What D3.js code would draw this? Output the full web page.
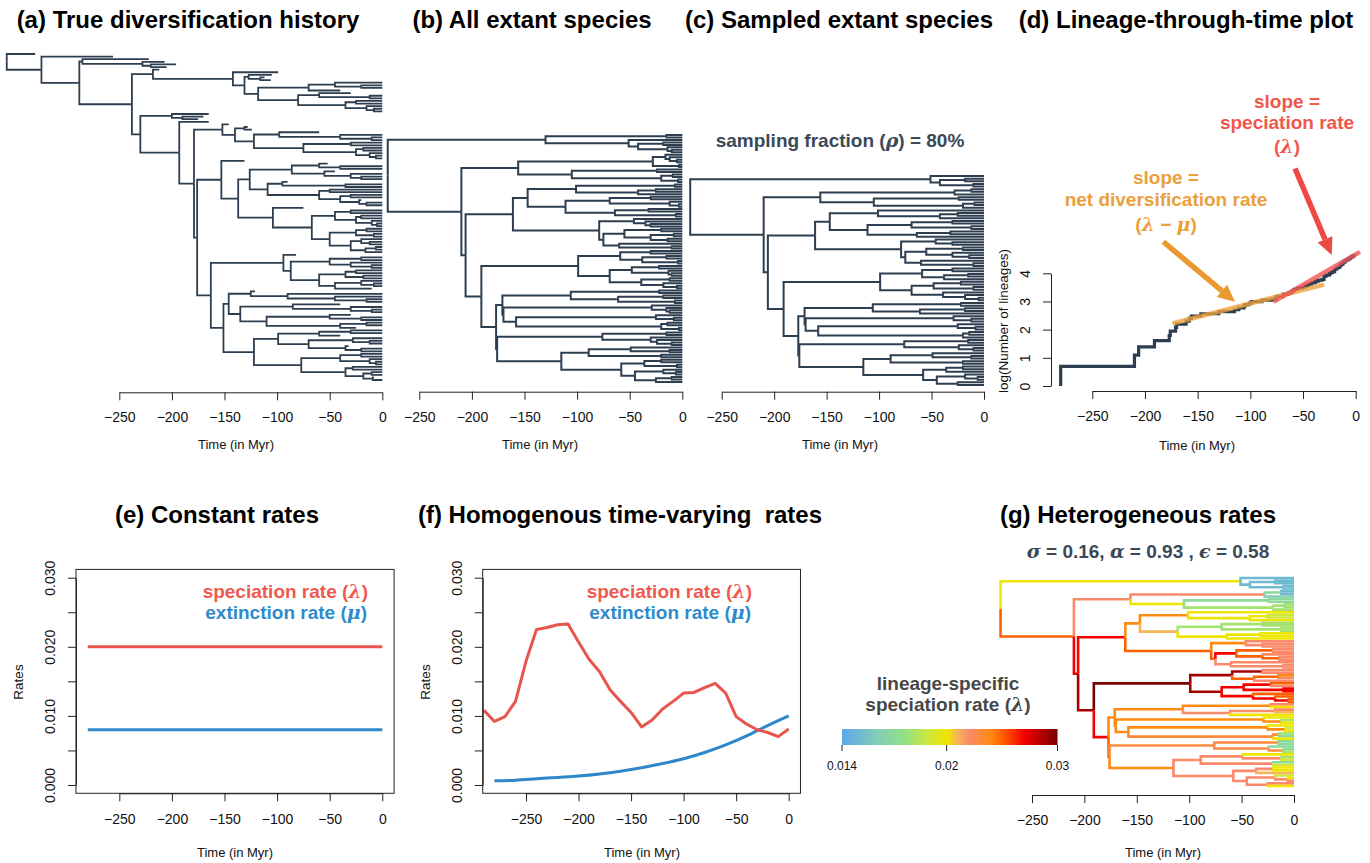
<!DOCTYPE html>
<html>
<head>
<meta charset="utf-8">
<style>
  body { margin: 0; background: #fff; }
  svg { display: block; font-family: "Liberation Sans", Arial, sans-serif; }
</style>
</head>
<body>
<svg width="1370" height="863"></svg>
<script src="https://cdn.jsdelivr.net/npm/d3@7"></script>
<script>
// ---------- data ----------
// trees are written as nested (child,child)age strings, ages in Myr before present
// tips: "" extant, "u" extant but not sampled, "x123" extinct 123 Myr ago
// ":25" after a node = lineage speciation rate (x 1/1000) on the branch leading to it

// (a) true history, with extinct lineages
const histTop = "(x99,((x105,(x112,x106)116)127,(((,(,)20)45,x40)70,((x30,(,)12)60,((,)25,(,(,)8)15)35)80)118)131)142";
const histC1 = "((x128,x124)131,((x60,(,(,)10)40)98,((,)30,((,)18,(,(,)6)12)25)75)122)140";
const histN129 = "(((x52,(,)40)60,(x45,(,(,)20)30)55)86,((x90,(,)35)95,((,)50,((,)30,(x20,(,)15)22)40)60)109)126";
const histC82 = "(((,)30,((,)20,(,(,)5)10)25)45,(((,)15,(,)8)25,((,(,)12)20,((,)6,)16)30)50)67";
const histN94 = "(x82,(((,)20,(,(,)10)30)50,(((,)25,(,)18)35,((,(,)8)20,x10)45)60)87)94";
const histN146 = "((x121,(,(,(,)15)45)90)125,((x40,(,(,)10)30)85,((x30,(,)20)50,((,)15,x25)40)110)135)146";
const histN122 = "((((,)30,x40)60,((,(,)12)28,(x32,(,)20)35)70)99,(((,)20,(,(,)6)12)40,((,)28,((,)10,(x8,)9)18)35)77)122";

// (b) all extant species (with rates used for (g))
const cladeTop = "((u,u)15,(:15,((,)18,(u,(,)10)14)42:15)51:20)130:20";
const cladeT1 = "(((u,(:15,(u,:15)5)12:17)16,(u,:16)3)28,((:17,:17)24:17,((,)9,(u,)4)20:18)105:20)156:22";
const clade101 = "((u,:20)7,((:19,:19)25,:20)42:20)101:24";
const clade111 = "(((,)30,(,(,u)3)12)69:18,((,)32,(u,)6)64:20)111:21";
const clade46 = "(:22,(u,(,)30)35:22)46:24";
const clade75 = "(((:22,:22)20:25,((:22,u)8,(:22,:22)14)30:25)55:27,(:22,(:22,:22)10)60:22)75:25";
const clade59 = "((:22,:22)30,((:24,:22)15,(u,:22)4)38:25)59:29";
const clade69 = "(((:25,:22)22,(u,(,)10)13)48:27,((:25,u)12,(:25,(:25,:25)5)18)39:27)69:29";
const clade106 = "((:22,:20)22,((:22,:21)18,(u,:20)7)61:22)106:24";
const clade170 = "((:20,(u,(:18,:20)12)15)29:24,((:20,(:19,:20)8)25:24,((:18,:17)14,(u,:20)3)20:23)158:24)170:24";
const clade76 = "((:17,:17)15,(u,(:17,(:17,:18)10)24)30)76:23";
const clade115 = "(((:20,(:18,:19)12)49:22,(:17,:19)20)89:22,(((:20,:20)20,(u,:21)5)36:22,((:19,(:20,:22)6)18,((:22,u)10,:20)25)45:22)58:22)115:24";

// (e) constant rates
const timeConst = [-280, 0];
const specConst = [0.02, 0.02];
const extConst = [0.008, 0.008];

// (f) time-varying rates
const timeVar = [-290, -280, -270, -260, -250, -240, -230, -220, -210, -200, -190, -180, -170, -160, -150,
  -140, -130, -120, -110, -100, -90, -80, -70, -60, -50, -40, -30, -20, -10, 0];
const specVar = [0.0108, 0.0092, 0.0099, 0.0121, 0.0179, 0.0225, 0.0228, 0.0232, 0.0233, 0.0207, 0.0182, 0.0164,
  0.0138, 0.0121, 0.0105, 0.0084, 0.0094, 0.0110, 0.0121, 0.0133, 0.0134, 0.0141, 0.0147, 0.0133, 0.0099,
  0.0088, 0.0080, 0.0076, 0.0070, 0.0081];
const timeExt = [-280, -260, -240, -220, -200, -180, -160, -140, -120, -100, -80, -60, -40, -20, 0];
const extVar = [0.0006, 0.0007, 0.0009, 0.0011, 0.0013, 0.0016, 0.0020, 0.0025, 0.0031, 0.0038, 0.0047,
  0.0058, 0.0071, 0.0086, 0.0100];

// (d) slope guides and arrows, in (time, log N)
const netDivLine = [[-174, 2.22], [-30, 3.6]];
const specSlopeLine = [[-78, 2.99], [4, 4.76]];
const netDivArrow = [[-182.6, 5.12], [-114.6, 2.99]];
const specArrow = [[-57.6, 7.72], [-22.8, 4.65]];

// (g) colour key
const rateStops = [0.014, 0.016, 0.0175, 0.019, 0.02, 0.021, 0.022, 0.024, 0.025, 0.027, 0.03];
const rateColors = ["#5aa7ea", "#84cdb8", "#8fe08a", "#cfe63a", "#efe600", "#f7b45a", "#fb8a6a",
  "#ff8a10", "#ff6000", "#f40000", "#7a0000"];
const keyTicks = [0.014, 0.02, 0.03];
const timeTicks = [-250, -200, -150, -100, -50, 0];
const rateTicks = [0, 0.005, 0.01, 0.015, 0.02, 0.025, 0.03];

// ---------- helpers ----------
const svg = d3.select("svg");
svg.append("rect").attr("width", 1370).attr("height", 863).attr("fill", "#fff");

const TREE = "#2c3e50", RED = "#e8554d", BLUE = "#2e87c8";
const fmtT = d => d < 0 ? "\u2212" + (-d) : String(d);

function parseTree(s) {
  let i = 0;
  function node() {
    const n = { children: [] };
    if (s[i] === "(") {
      i++;
      n.children.push(node());
      while (s[i] === ",") { i++; n.children.push(node()); }
      i++;
    }
    const m = /^([ux]?)(\d*)(?::(\d+))?/.exec(s.slice(i));
    i += m[0].length;
    n.flag = m[1];
    n.age = m[2] ? +m[2] : 0;
    n.rate = m[3] ? +m[3] / 1000 : null;
    return n;
  }
  return node();
}

function inheritRates(n, r) {
  if (n.rate == null) n.rate = r;
  n.children.forEach(c => inheritRates(c, n.rate));
}

function prune(n) {
  if (!n.children.length) return n.flag === "u" ? null : { ...n };
  const kids = n.children.map(prune).filter(Boolean);
  if (!kids.length) return null;
  if (kids.length === 1) return kids[0];
  return { ...n, children: kids };
}

function drawTree(tree, xs, yRange, width, colorOf) {
  const h = d3.hierarchy(tree, d => d.children.length ? d.children : null);
  const leaves = h.leaves();
  const ys = d3.scaleLinear().domain([0, leaves.length - 1]).range(yRange);
  leaves.forEach((l, i) => l.py = ys(i));
  h.eachAfter(n => {
    if (n.children) n.py = (n.children[0].py + n.children[n.children.length - 1].py) / 2;
  });
  h.each(n => n.px = xs(-n.data.age));
  svg.append("g").selectAll("path").data(h.links()).join("path")
    .attr("d", l => `M${l.source.px},${l.source.py}V${l.target.py}H${l.target.px}`)
    .attr("fill", "none")
    .attr("stroke", l => colorOf ? colorOf(l.target.data.rate) : TREE)
    .attr("stroke-width", width);
}

function xAxis(scale, y, pad) {
  const g = svg.append("g").attr("transform", `translate(0,${y})`)
    .call(d3.axisBottom(scale).tickValues(timeTicks).tickSize(8).tickSizeOuter(0)
      .tickPadding(pad).tickFormat(fmtT));
  g.attr("font-size", null).attr("font-family", null);
  g.selectAll("text").style("font-size", "14px").attr("fill", "#111");
  g.selectAll("path,line").attr("stroke", "#222");
}

function yAxis(scale, x, ticks, fmt) {
  const g = svg.append("g").attr("transform", `translate(${x},0)`)
    .call(d3.axisLeft(scale).tickValues(ticks).tickSize(8).tickSizeOuter(0).tickFormat(fmt));
  g.attr("font-size", null).attr("font-family", null);
  g.selectAll("text").attr("transform", "rotate(-90)").attr("x", 0).attr("y", -21).attr("dy", 0)
    .attr("text-anchor", "middle").style("font-size", "14px").attr("fill", "#111");
  g.selectAll("path,line").attr("stroke", "#222");
}

function label(txt, x, y, opts = {}) {
  const t = svg.append("text").attr("x", x).attr("y", y)
    .attr("text-anchor", opts.anchor || "middle")
    .attr("font-size", opts.size || 13)
    .attr("font-weight", opts.bold ? "bold" : "normal")
    .attr("fill", opts.fill || "#111");
  if (opts.rotate) t.attr("transform", `rotate(-90,${x},${y})`);
  t.html(txt);
  return t;
}
const it = s => `<tspan font-style="italic" font-family="DejaVu Serif">${s}</tspan>`;

// ---------- trees ----------
const treeA = parseTree("(x330,(x256,((x222,(x207,(x196,x205)220)228)285,((x212," + histTop +
  ")218,((x165,(x170,x175)190)200,(x165,((x146," + histC1 + ")152,((x131,(" + histN129 + ",(x75," +
  histC82 + ")104)137)153,(" + histN94 + ",(" + histN146 + "," + histN122 + ")151)163)176)179)193)230)238)288)324)357");

const treeB = parseTree("(" + cladeTop + ",(" + cladeT1 + ",(((" + clade101 + "," + clade111 + ")147:24,(" +
  clade46 + "," + clade75 + ")79:25)161:27,((" + clade59 + "," + clade69 + ")99:30,((" + clade106 + "," +
  clade170 + ")171:24,(" + clade76 + "," + clade115 + ")176:25)177:27)191:29)206:27)210:25)280");
inheritRates(treeB, null);
const treeC = prune(treeB);

const xA = d3.scaleLinear().domain([-250, 0]).range([119.3, 382.3]);
const xB = d3.scaleLinear().domain([-250, 0]).range([419.3, 682.3]);
const xC = d3.scaleLinear().domain([-250, 0]).range([721.7, 984]);
const xG = d3.scaleLinear().domain([-250, 0]).range([1032, 1294]);

drawTree(treeA, xA, [54, 380], 1.8);
drawTree(treeB, xB, [135, 382], 2);
drawTree(treeC, xC, [176, 385], 2);

const rateColor = d3.scaleLinear().domain(rateStops).range(rateColors).clamp(true);
drawTree(treeC, xG, [578, 786], 2.6, rateColor);

xAxis(xA, 392.3, 12);
xAxis(xB, 391.7, 12);
xAxis(xC, 391.7, 12);
xAxis(xG, 795, 12);

// ---------- (d) LTT ----------
const xD = d3.scaleLinear().domain([-250, 0]).range([1092.3, 1355.7]);
const yD = d3.scaleLinear().domain([0, 4]).range([386, 273.3]);
const nodeAges = d3.hierarchy(treeB, d => d.children.length ? d.children : null)
  .descendants().filter(d => d.children).map(d => d.data.age).sort(d3.descending);
const ltt = [[-nodeAges[0], 1]];
nodeAges.forEach((a, i) => ltt.push([-a, i + 2]));
ltt.push([0, nodeAges.length + 1]);

const lineD = d3.line().x(d => xD(d[0])).y(d => yD(d[1]));
svg.append("path").datum(ltt.map(d => [d[0], Math.log(d[1])]))
  .attr("d", lineD.curve(d3.curveStepAfter)).attr("fill", "none")
  .attr("stroke", TREE).attr("stroke-width", 3.2);
lineD.curve(d3.curveLinear);
svg.append("path").datum(netDivLine).attr("d", lineD).attr("stroke", "#eea13c")
  .attr("stroke-opacity", 0.8).attr("stroke-width", 4.5).attr("fill", "none");
svg.append("path").datum(specSlopeLine).attr("d", lineD).attr("stroke", "#f05555")
  .attr("stroke-opacity", 0.8).attr("stroke-width", 4.5).attr("fill", "none");

function arrow(pts, col) {
  const [x0, y0] = [xD(pts[0][0]), yD(pts[0][1])];
  const [x1, y1] = [xD(pts[1][0]), yD(pts[1][1])];
  const a = Math.atan2(y1 - y0, x1 - x0), L = 17, w = 8;
  const bx = x1 - L * Math.cos(a), by = y1 - L * Math.sin(a);
  svg.append("line").attr("x1", x0).attr("y1", y0).attr("x2", bx).attr("y2", by)
    .attr("stroke", col).attr("stroke-width", 5.5);
  svg.append("path").attr("fill", col).attr("d",
    `M${x1},${y1}L${bx + w * Math.sin(a)},${by - w * Math.cos(a)}L${bx - w * Math.sin(a)},${by + w * Math.cos(a)}Z`);
}
arrow(netDivArrow, "#e89a30");
arrow(specArrow, "#ee4a44");

xAxis(xD, 391, 12);
yAxis(yD, 1051, [0, 1, 2, 3, 4], d => d);

label("slope =", 1287, 108, { bold: true, size: 19, fill: "#f0564c" });
label("speciation rate", 1287, 129, { bold: true, size: 19, fill: "#f0564c" });
label("(" + it("λ") + ")", 1287, 153, { bold: true, size: 19, fill: "#f0564c" });
label("slope =", 1166, 184, { bold: true, size: 19, fill: "#eba03c" });
label("net diversification rate", 1166, 206, { bold: true, size: 19, fill: "#eba03c" });
label("(" + it("λ") + " \u2212 " + it("μ") + ")", 1166, 231, { bold: true, size: 19, fill: "#eba03c" });
label("log(Number of lineages)", 1008, 321, { size: 13.5, rotate: true });

// ---------- (e) and (f) ----------
const yR = d3.scaleLinear().domain([0, 0.03]).range([785, 577.7]);
const rateFmt = d => (Math.round(d * 1000) % 10 === 0) ? d.toFixed(3) : "";

function ratePanel(xs, times, spec, extTimes, ext, id, legendRight) {
  const x0 = xs(-291.2), x1 = xs(11.2), y0 = yR(0.0312), y1 = yR(-0.0012);
  svg.append("clipPath").attr("id", id).append("rect")
    .attr("x", x0).attr("y", y0).attr("width", x1 - x0).attr("height", y1 - y0);
  const line = d3.line().x(d => xs(d[0])).y(d => yR(d[1])).curve(d3.curveMonotoneX);
  svg.append("path").datum(d3.zip(extTimes, ext)).attr("d", line).attr("clip-path", `url(#${id})`)
    .attr("fill", "none").attr("stroke", BLUE).attr("stroke-width", 3);
  svg.append("path").datum(d3.zip(times, spec)).attr("d", line.curve(d3.curveLinear))
    .attr("clip-path", `url(#${id})`)
    .attr("fill", "none").attr("stroke", RED).attr("stroke-width", 3).attr("stroke-linejoin", "round");
  svg.append("rect").attr("x", x0).attr("y", y0).attr("width", x1 - x0).attr("height", y1 - y0)
    .attr("fill", "none").attr("stroke", "#222");
  xAxis(xs, y1, 13);
  yAxis(yR, x0, rateTicks, rateFmt);
  label("speciation rate (" + it("λ") + ")", legendRight, 598, { bold: true, size: 19, fill: "#ee5a4f", anchor: "end" });
  label("extinction rate (" + it("μ") + ")", legendRight - 1, 619, { bold: true, size: 19, fill: "#2f8bcd", anchor: "end" });
}
const xE = d3.scaleLinear().domain([-250, 0]).range([119.3, 382.3]);
const xF = d3.scaleLinear().domain([-250, 0]).range([526, 788.7]);
ratePanel(xE, timeConst, specConst, timeConst, extConst, "clipE", 368);
ratePanel(xF, timeVar, specVar, timeExt, extVar, "clipF", 752);
label("Rates", 23, 682, { size: 13.5, rotate: true });
label("Rates", 430, 682, { size: 13.5, rotate: true });

// ---------- (g) colour key ----------
const keyX = d3.scaleLinear().domain([0.014, 0.02, 0.03]).range([842, 946.7, 1057.5]);
const grad = svg.append("defs").append("linearGradient").attr("id", "rateGrad");
grad.selectAll("stop").data(rateStops).join("stop")
  .attr("offset", d => (keyX(d) - 842) / (1057.5 - 842))
  .attr("stop-color", d => rateColor(d));
svg.append("rect").attr("x", 842).attr("y", 729).attr("width", 1057.5 - 842).attr("height", 16)
  .attr("fill", "url(#rateGrad)");
svg.append("g").selectAll("line").data(keyTicks).join("line")
  .attr("x1", d => keyX(d)).attr("x2", d => keyX(d)).attr("y1", 745).attr("y2", 751).attr("stroke", "#222");
svg.append("g").selectAll("text").data(keyTicks).join("text")
  .attr("x", d => keyX(d)).attr("y", 770).attr("text-anchor", "middle").attr("font-size", 12)
  .attr("fill", "#111").text(d => d);
label("lineage-specific", 948, 690, { bold: true, size: 19, fill: "#474747" });
label("speciation rate (" + it("λ") + ")", 948, 711, { bold: true, size: 19, fill: "#474747" });

// ---------- titles and texts ----------
const T = { bold: true, size: 24, fill: "#000" };
label("(a) True diversification history", 188, 28, T);
label("(b) All extant species", 532, 28, T);
label("(c) Sampled extant species", 839, 28, T);
label("(d) Lineage-through-time plot", 1186, 28, T);
label("(e) Constant rates", 217, 523, T);
label("(f) Homogenous time-varying&#160; rates", 620, 523, T);
label("(g) Heterogeneous rates", 1138, 523, T);

label("sampling fraction (" + it("ρ") + ") = 80%", 840, 147, { bold: true, size: 19, fill: "#3b4858" });
label(it("σ") + " = 0.16, " + it("α") + " = 0.93 , " + it("ϵ") + " = 0.58", 1148, 558,
  { bold: true, size: 19, fill: "#3b4858" });

[[236, 449], [540, 449], [840, 449], [1197, 450], [235, 857], [642, 857], [1163, 857]]
  .forEach(p => label("Time (in Myr)", p[0], p[1], { size: 13 }));
</script>
</body>
</html>
